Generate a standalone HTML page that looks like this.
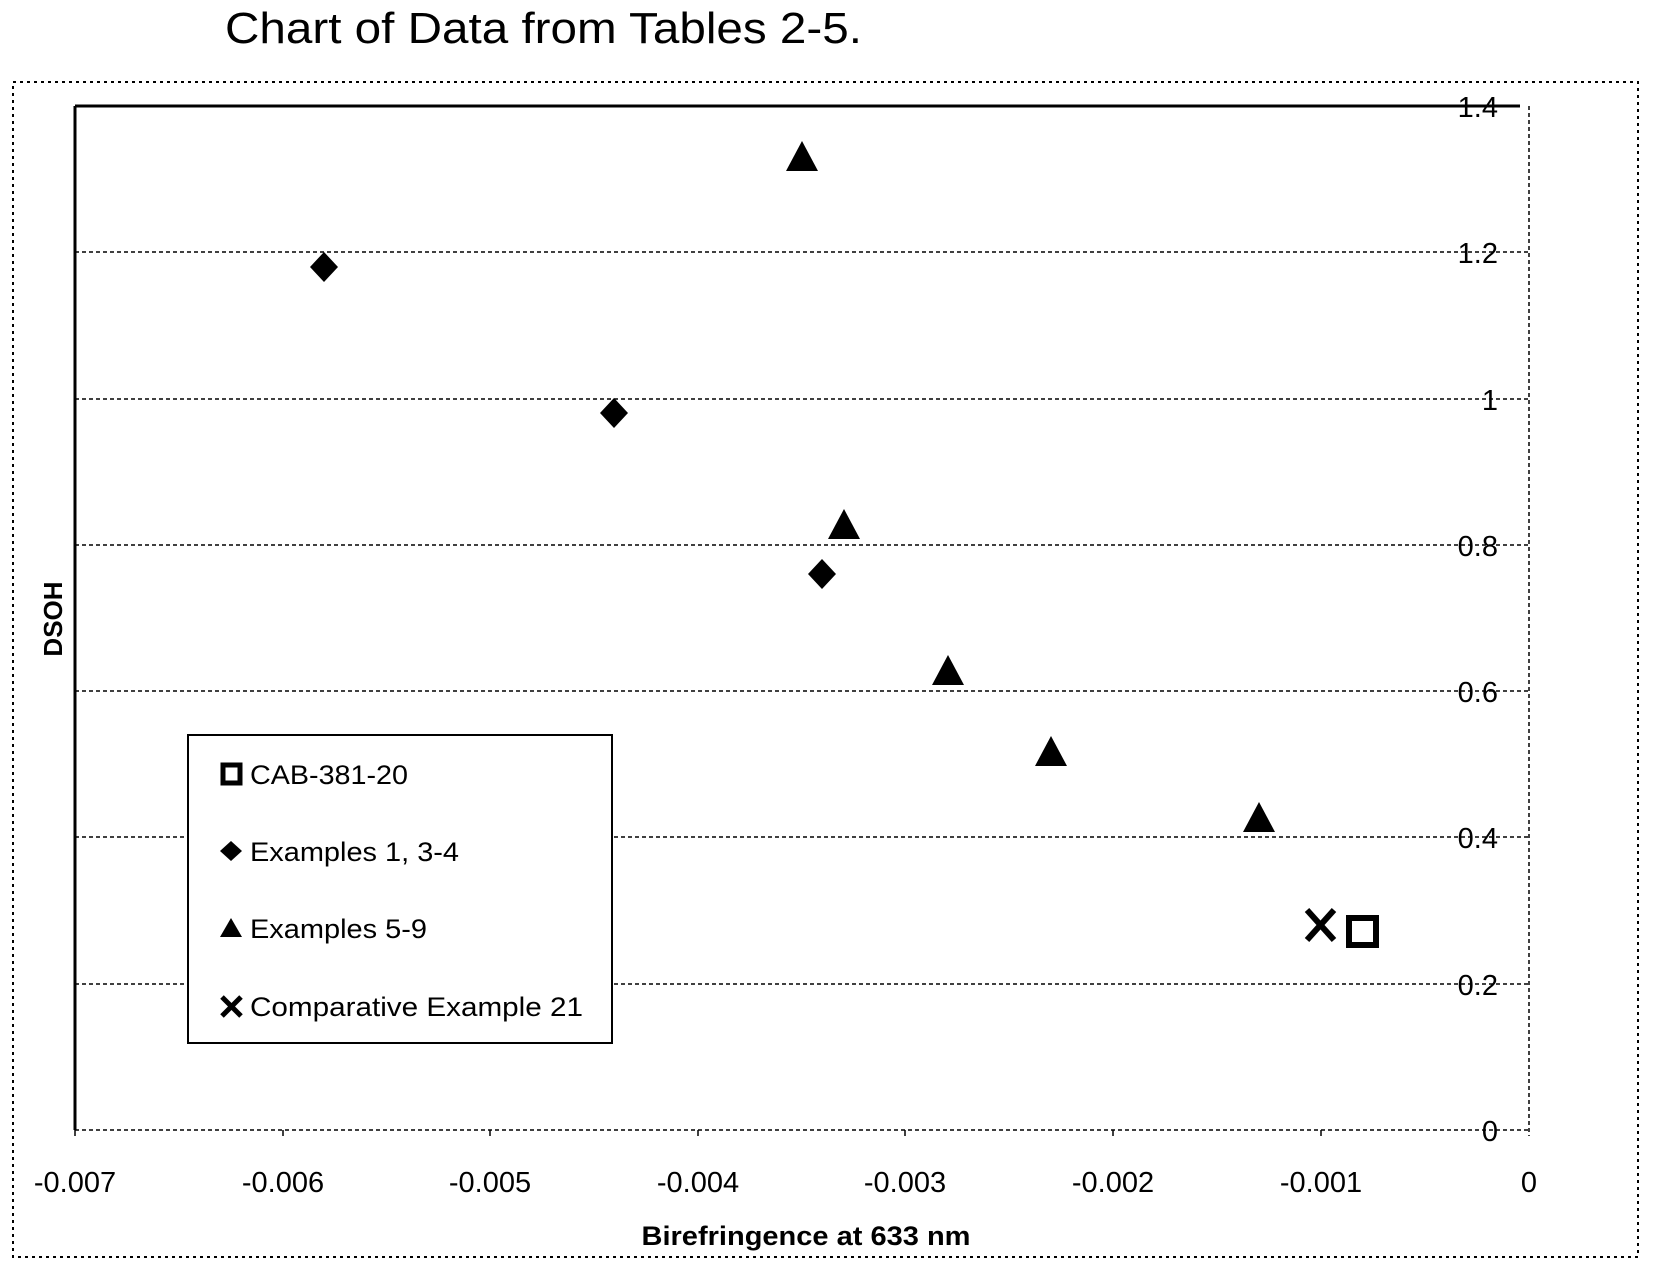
<!DOCTYPE html>
<html><head><meta charset="utf-8"><style>html,body{margin:0;padding:0;background:#fff}svg{display:block}</style></head>
<body>
<svg width="1656" height="1280" viewBox="0 0 1656 1280" xmlns="http://www.w3.org/2000/svg">
<rect x="0" y="0" width="1656" height="1280" fill="#fff"/>
<text x="225" y="43" font-family="Liberation Sans, sans-serif" font-size="44" textLength="637" lengthAdjust="spacingAndGlyphs">Chart of Data from Tables 2-5.</text>
<rect x="13" y="82" width="1625" height="1175" fill="none" stroke="#000" stroke-width="2" stroke-dasharray="3,4"/>
<g stroke="#000" stroke-width="1.5" stroke-dasharray="4,3" fill="none">
<line x1="75" y1="252" x2="1529" y2="252"/>
<line x1="75" y1="399" x2="1529" y2="399"/>
<line x1="75" y1="545" x2="1529" y2="545"/>
<line x1="75" y1="691" x2="1529" y2="691"/>
<line x1="75" y1="837" x2="1529" y2="837"/>
<line x1="75" y1="984" x2="1529" y2="984"/>
<line x1="75" y1="1130" x2="1529" y2="1130"/>
<line x1="1529" y1="106" x2="1529" y2="1136"/>
</g>
<g stroke="#000" stroke-width="1.5">
<line x1="75" y1="1130" x2="75" y2="1136"/><line x1="283" y1="1130" x2="283" y2="1136"/><line x1="490" y1="1130" x2="490" y2="1136"/><line x1="698" y1="1130" x2="698" y2="1136"/><line x1="905" y1="1130" x2="905" y2="1136"/><line x1="1113" y1="1130" x2="1113" y2="1136"/><line x1="1321" y1="1130" x2="1321" y2="1136"/>
</g>
<line x1="75" y1="106" x2="1520" y2="106" stroke="#000" stroke-width="3"/>
<line x1="75" y1="106" x2="75" y2="1130" stroke="#000" stroke-width="3"/>
<g font-family="Liberation Sans, sans-serif" font-size="29" text-anchor="end" fill="#000">
<text x="1498" y="117">1.4</text><text x="1498" y="263">1.2</text><text x="1498" y="410">1</text><text x="1498" y="556">0.8</text><text x="1498" y="702">0.6</text><text x="1498" y="848">0.4</text><text x="1498" y="995">0.2</text><text x="1498" y="1141">0</text>
</g>
<g font-family="Liberation Sans, sans-serif" font-size="29" text-anchor="middle" fill="#000">
<text x="75" y="1192">-0.007</text><text x="283" y="1192">-0.006</text><text x="490" y="1192">-0.005</text><text x="698" y="1192">-0.004</text><text x="905" y="1192">-0.003</text><text x="1113" y="1192">-0.002</text><text x="1321" y="1192">-0.001</text><text x="1529" y="1192">0</text>
</g>
<text x="806" y="1245" font-family="Liberation Sans, sans-serif" font-weight="bold" font-size="27" text-anchor="middle" textLength="329" lengthAdjust="spacingAndGlyphs">Birefringence at 633 nm</text>
<text transform="translate(62,619) rotate(-90)" font-family="Liberation Sans, sans-serif" font-weight="bold" font-size="26" text-anchor="middle">DSOH</text>
<g fill="#000">
<polygon points="324,252 338,267 324,282 310,267"/>
<polygon points="614,398 628,413 614,428 600,413"/>
<polygon points="822,559 836,574 822,589 808,574"/>
<polygon points="802,141 818,171 786,171"/>
<polygon points="844,509 860,539 828,539"/>
<polygon points="948,655 964,685 932,685"/>
<polygon points="1051,736 1067,766 1035,766"/>
<polygon points="1259,802 1275,832 1243,832"/>
</g>
<rect x="1349" y="918" width="27" height="27" fill="none" stroke="#000" stroke-width="6"/>
<g stroke="#000" stroke-width="6"><line x1="1307" y1="910" x2="1334" y2="940"/><line x1="1334" y1="910" x2="1307" y2="940"/></g>
<rect x="188" y="735" width="424" height="308" fill="#fff" stroke="#000" stroke-width="2"/>
<rect x="223" y="765" width="17" height="18" fill="none" stroke="#000" stroke-width="5"/>
<polygon points="231,841 242,851 231,861 220,851" fill="#000"/>
<polygon points="231,918 242,937 220,937" fill="#000"/>
<g stroke="#000" stroke-width="5"><line x1="222" y1="997" x2="241" y2="1016"/><line x1="241" y1="997" x2="222" y2="1016"/></g>
<g font-family="Liberation Sans, sans-serif" font-size="27" fill="#000">
<text x="250" y="784" textLength="158" lengthAdjust="spacingAndGlyphs">CAB-381-20</text>
<text x="250" y="861" textLength="209" lengthAdjust="spacingAndGlyphs">Examples 1, 3-4</text>
<text x="250" y="938" textLength="177" lengthAdjust="spacingAndGlyphs">Examples 5-9</text>
<text x="250" y="1016" textLength="333" lengthAdjust="spacingAndGlyphs">Comparative Example 21</text>
</g>
</svg>
</body></html>
